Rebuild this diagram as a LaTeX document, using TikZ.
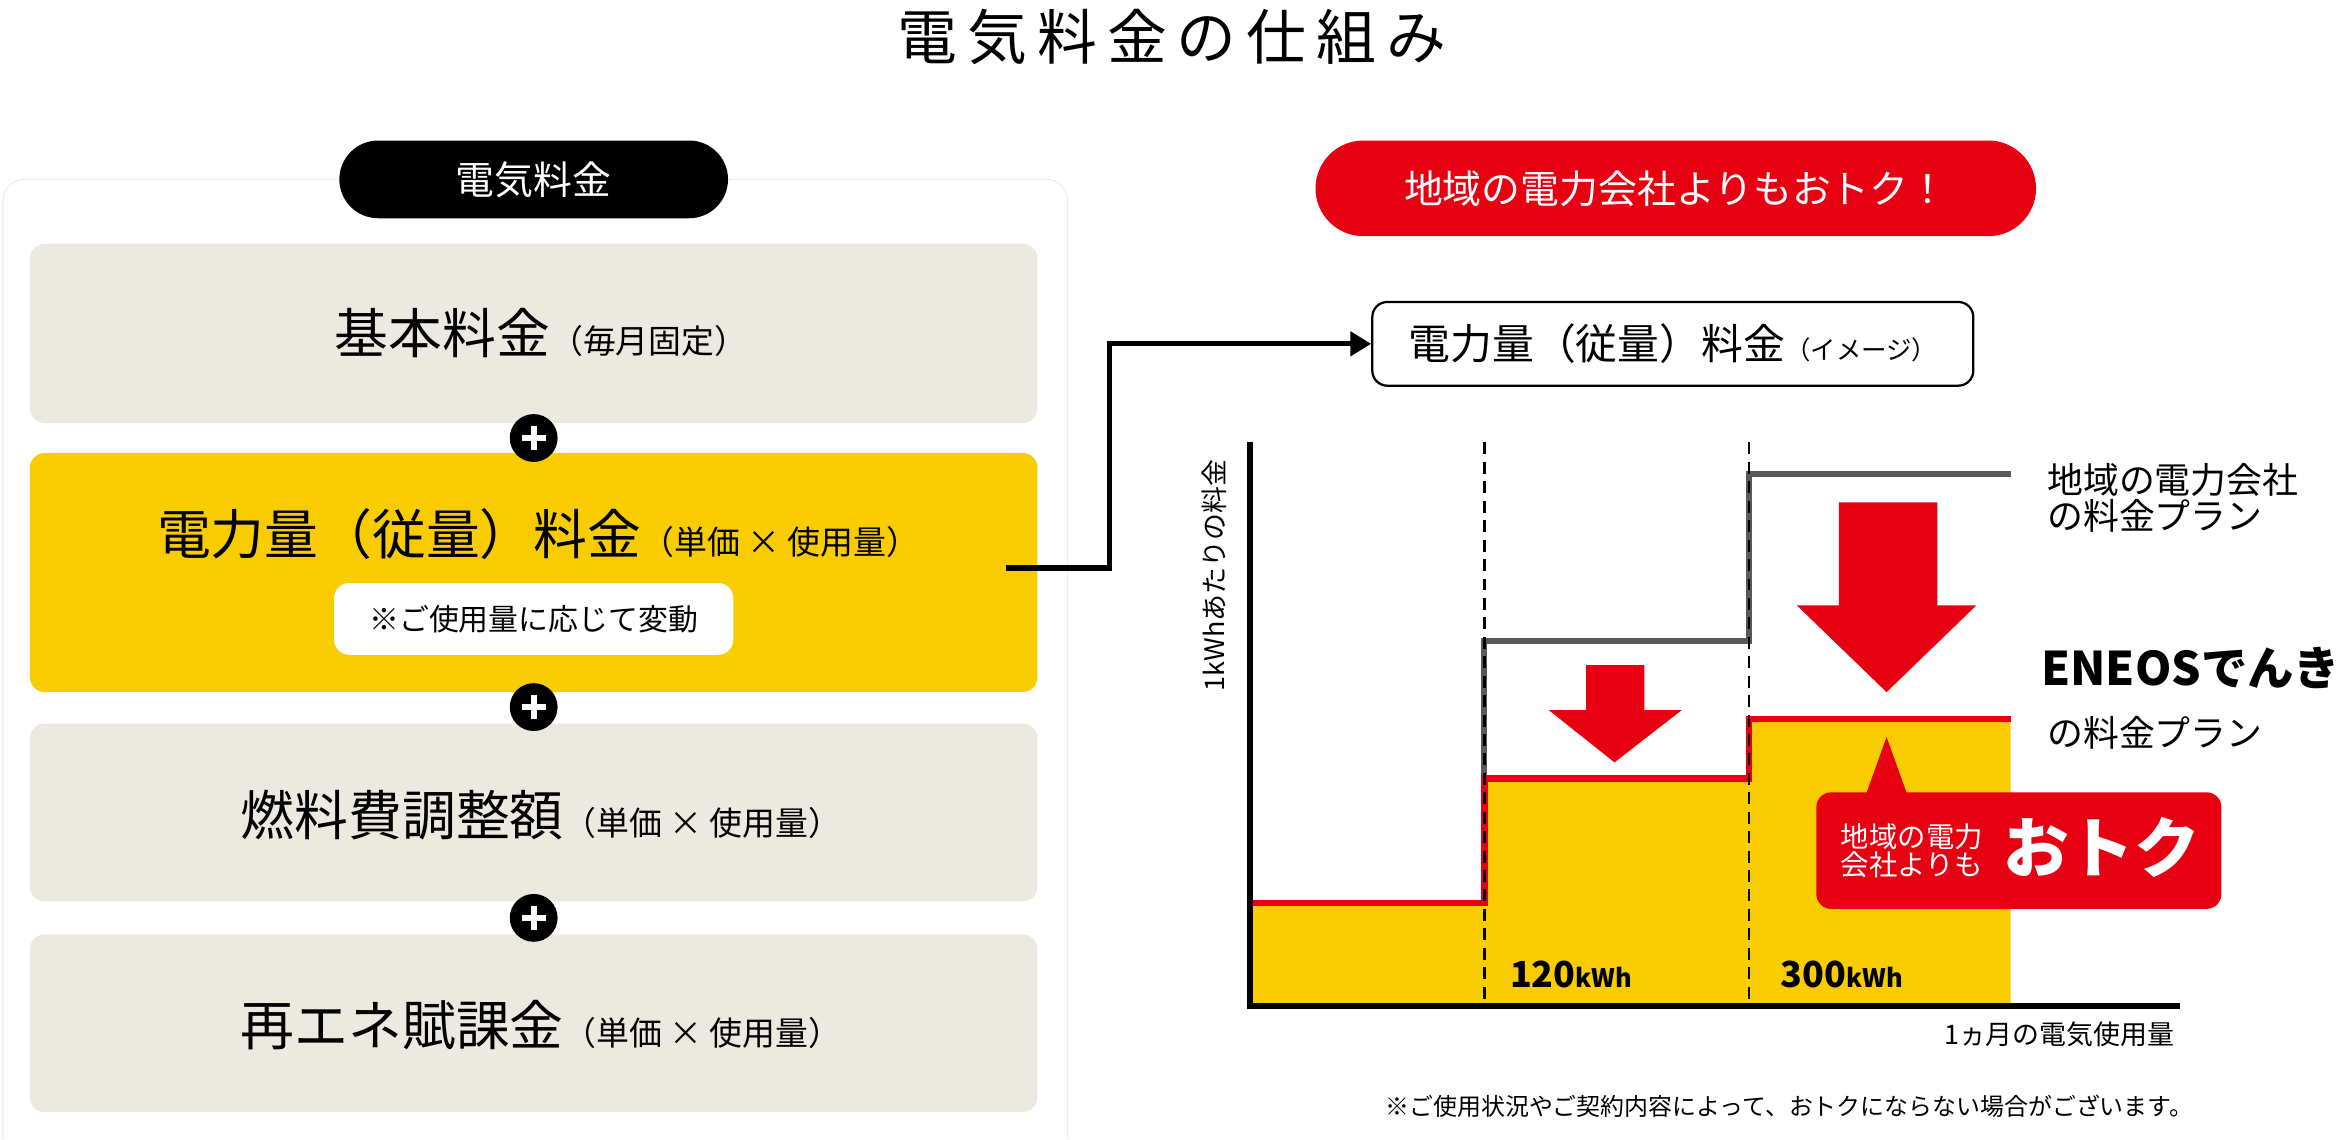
\documentclass[tikz,border=0pt]{standalone}
\usepackage{fontspec}
\setmainfont{Noto Sans CJK JP}
\usetikzlibrary{arrows.meta}
\definecolor{beige}{HTML}{ECE9E0}
\definecolor{ylw}{HTML}{F9CC00}
\definecolor{rd}{HTML}{E60012}
\tikzset{x=1pt,y=-1pt,
 panel/.style={fill=beige,rounded corners=10pt,draw=none},
 plusc/.style={circle,fill=black,minimum size=32pt,inner sep=0pt},
 fsz/.style={font=\fontsize{#1}{#1}\selectfont},
 bsz/.style={font=\bfseries\fontsize{#1}{#1}\selectfont}}
\begin{document}
\begin{tikzpicture}
\useasboundingbox (0,0) rectangle (1568,762);
\node[fsz=40] (title) at (784,25) {電\,気\,料\,金\,の\,仕\,組\,み};
\draw[black!12,rounded corners=14pt] (2,762) -- (2,120) -- (714,120) -- (714,762);
\node[fill=black,rounded corners=26pt,minimum width=260pt,minimum height=52pt,text=white,fsz=26] (pill) at (357,120) {電気料金};
\fill[panel] (20,163) rectangle (694,283);
\node[fsz=36] (t1) at (362,223) {基本料金\fontsize{22}{22}\selectfont（毎月固定）};
\fill[panel,fill=ylw] (20,303) rectangle (694,463);
\node[fsz=36] (t2) at (360,357) {電力量（従量）料金\fontsize{22}{22}\selectfont（単価 × 使用量）};
\node[fill=white,rounded corners=10pt,minimum width=267pt,minimum height=48pt,fsz=20] (note) at (357,414) {※ご使用量に応じて変動};
\fill[panel] (20,484) rectangle (694,603);
\node[fsz=36] (t3) at (362,545) {燃料費調整額\fontsize{22}{22}\selectfont（単価 × 使用量）};
\fill[panel] (20,625) rectangle (694,744);
\node[fsz=36] (t4) at (362,686) {再エネ賦課金\fontsize{22}{22}\selectfont（単価 × 使用量）};
\foreach \y/\n in {293/p1,473/p2,614/p3}{
 \node[plusc] (\n) at (357,\y) {};
 \draw[white,line width=4pt] (349,\y) -- (365,\y) (357,\y-8) -- (357,\y+8);}
\node[fill=rd,rounded corners=32pt,minimum width=482pt,minimum height=64pt,text=white,fsz=26] (redpill) at (1121,126) {地域の電力会社よりもおトク！};
\node[draw=black,line width=1.5pt,rounded corners=10pt,minimum width=402pt,minimum height=56pt,fsz=28] (ib) at (1119,230) {電力量（従量）料金\fontsize{17}{17}\selectfont（イメージ）};
\coordinate (cs) at (673,380);
\draw[line width=3.5pt,-{Triangle[length=14pt,width=16pt]}] (cs) -- (742,380) -- (742,230) -- (ib.west);
% chart
\fill[ylw] (836,604) -- (993,604) -- (993,521) -- (1170,521) -- (1170,481) -- (1345,481) -- (1345,673) -- (836,673) -- cycle;
\draw[black!65,line width=4pt] (993,521) -- (993,429) -- (1170,429) -- (1170,317) -- (1345,317);
\draw[rd,line width=4.5pt] (836,604) -- (993,604) -- (993,521) -- (1170,521) -- (1170,481) -- (1345,481);
\draw[line width=1.5pt,dash pattern=on 8pt off 5pt] (993,296) -- (993,673) (1170,296) -- (1170,673);
\draw[line width=4pt] (836,296) -- (836,673) -- (1458,673);
\node[rotate=90,fsz=18] (yl) at (812,385) {1kWhあたりの料金};
\node[anchor=east,fsz=18] (xl) at (1458,692) {1ヵ月の電気使用量};
\node[bsz=24] (k1) at (1051,652) {120\fontsize{17}{17}\selectfont kWh};
\node[bsz=24] (k2) at (1232,652) {300\fontsize{17}{17}\selectfont kWh};
\fill[rd] (1061,445) -- (1100,445) -- (1100,475) -- (1125,475) -- (1080,510) -- (1036,475) -- (1061,475) -- cycle;
\fill[rd] (1230,336) -- (1296,336) -- (1296,405) -- (1322,405) -- (1262,463) -- (1202,405) -- (1230,405) -- cycle;
\node[anchor=west,align=left,fsz=24] (r1) at (1366,333) {地域の電力会社\\の料金プラン};
\node[anchor=west,bsz=31] (r2) at (1362,447) {ENEOSでんき};
\node[anchor=west,fsz=24] (r3) at (1366,490) {の料金プラン};
\fill[rd,rounded corners=10pt] (1215,530) rectangle (1486,608);
\fill[rd] (1248,532) -- (1262,493) -- (1276,532) -- cycle;
\node[text=white,align=left,fsz=19] (c1) at (1279,569) {地域の電力\\会社よりも};
\node[text=white,bsz=44] (c2) at (1406,567) {おトク};
\node[fsz=16] (fn) at (1197,740) {※ご使用状況やご契約内容によって、おトクにならない場合がございます。};
\end{tikzpicture}
\end{document}
